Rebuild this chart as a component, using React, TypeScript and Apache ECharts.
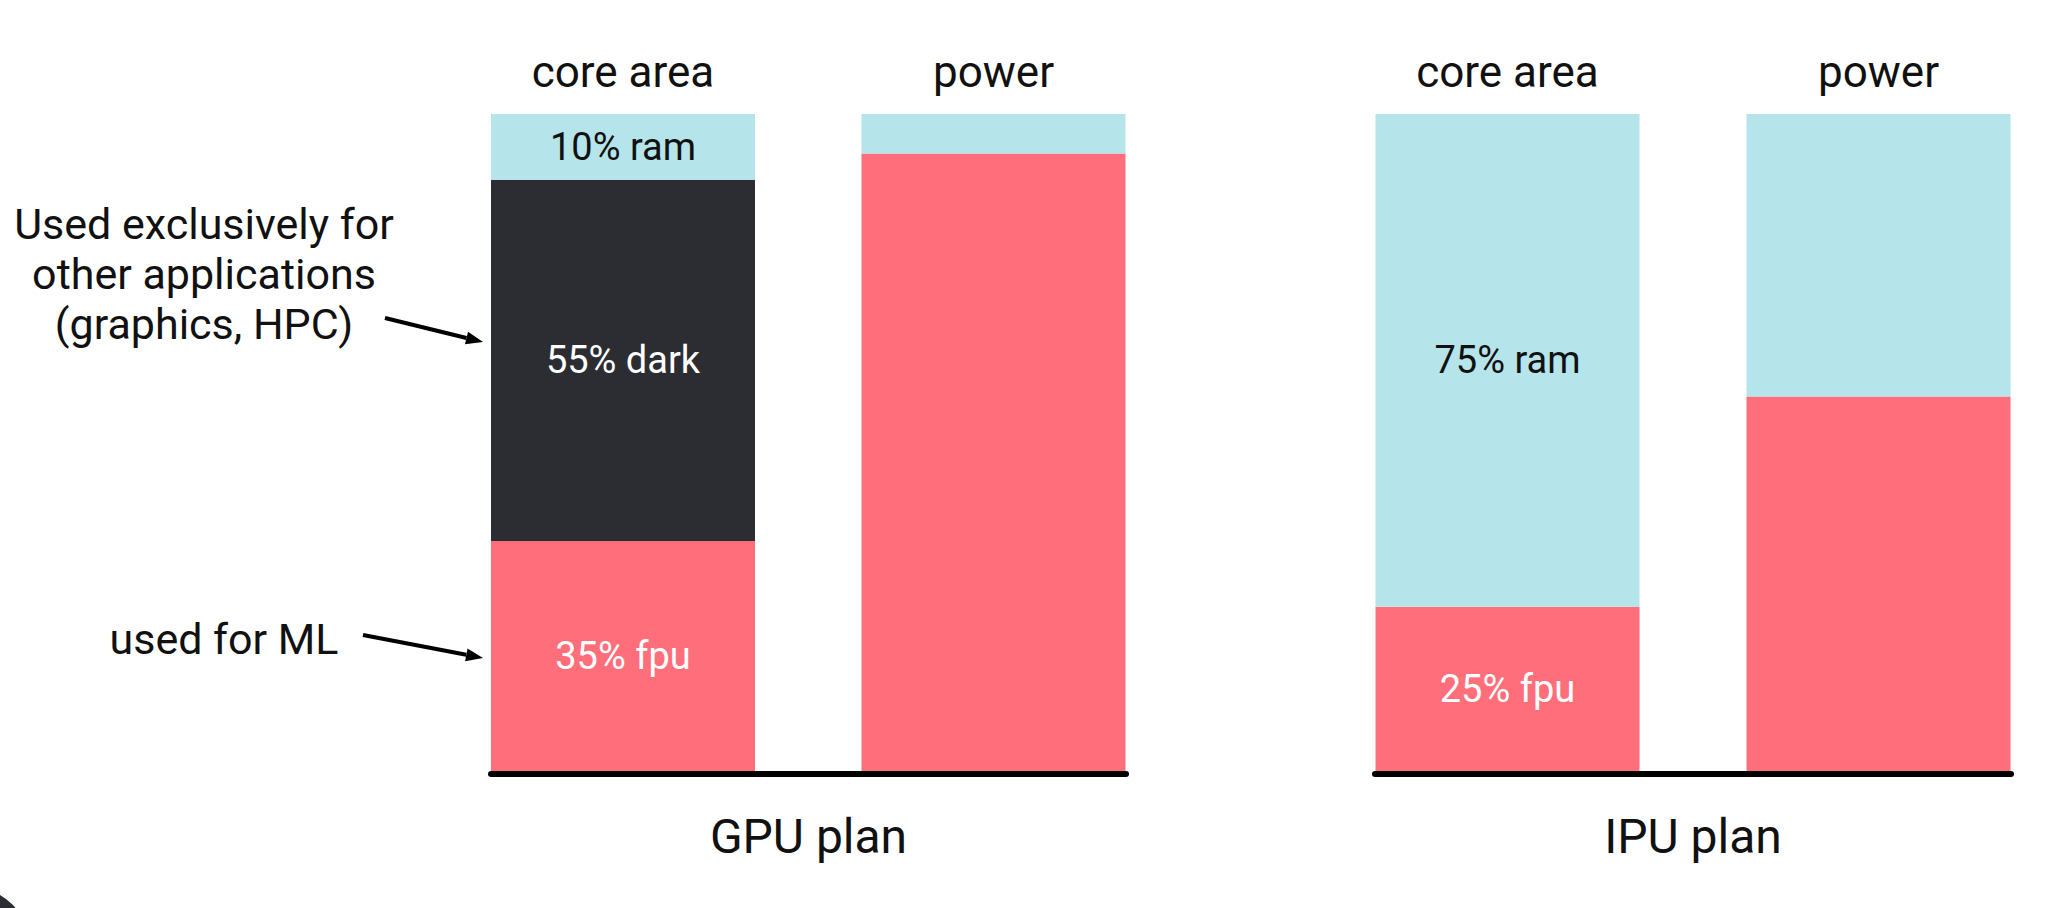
import React, { useEffect, useRef } from 'react';
import * as echarts from 'echarts';

const categories = ['core area', 'power'];
const gpuFpu = [35, 94];
const gpuDark = [55, 0];
const gpuRam = [10, 6];
const ipuFpu = [25, 57];
const ipuRam = [75, 43];
const planNames = ['GPU plan', 'IPU plan'];
const otherNote = ['Used exclusively for', 'other applications', '(graphics, HPC)'];
const mlNote = 'used for ML';

const RED = '#FF6F7B';
const BLUE = '#B5E4EA';
const DARK = '#2B2D32';
const FONT = 'Roboto, "Noto Sans", sans-serif';

export default function App() {
  const ref = useRef<HTMLDivElement>(null);

  useEffect(() => {
    if (!ref.current) return;
    const chart = echarts.init(ref.current, undefined, { renderer: 'svg' });

    const segLabel = (color: string) => ({
      show: true,
      position: 'inside',
      color,
      fontSize: 38,
      fontFamily: FONT,
      formatter: (p: any) => (p.dataIndex === 0 ? `${p.value}% ${p.seriesName}` : ''),
    });

    const bar = (name: string, data: number[], color: string, labelColor: string, gi: number, stack: string) => ({
      type: 'bar',
      name,
      data,
      stack,
      xAxisIndex: gi,
      yAxisIndex: gi,
      barWidth: 264,
      itemStyle: { color },
      label: segLabel(labelColor),
      emphasis: { disabled: true },
    });

    const topAxis = (gi: number) => ({
      gridIndex: gi,
      type: 'category',
      data: categories,
      position: 'top',
      axisLine: { show: false },
      axisTick: { show: false },
      axisLabel: { fontSize: 44, color: '#111', margin: 20, fontFamily: FONT },
    });

    const baseAxis = (gi: number, name: string) => ({
      gridIndex: gi,
      type: 'category',
      data: [''],
      position: 'bottom',
      axisLine: { show: true, lineStyle: { color: '#000', width: 6 } },
      axisTick: { show: false },
      axisLabel: { show: false },
      name,
      nameLocation: 'middle',
      nameGap: 38,
      nameTextStyle: { fontSize: 48, color: '#111', fontFamily: FONT },
    });

    const valAxis = (gi: number) => ({ gridIndex: gi, type: 'value', min: 0, max: 100, show: false });

    const arrow = (x1: number, y1: number, x2: number, y2: number) => {
      const dx = x2 - x1;
      const dy = y2 - y1;
      const len = Math.sqrt(dx * dx + dy * dy);
      const ux = dx / len;
      const uy = dy / len;
      const hl = 17;
      const hw = 6.5;
      const bx = x2 - ux * hl;
      const by = y2 - uy * hl;
      return [
        { type: 'line', shape: { x1, y1, x2: bx, y2: by }, style: { stroke: '#000', lineWidth: 4 } },
        {
          type: 'polygon',
          shape: {
            points: [
              [x2, y2],
              [bx - uy * hw, by + ux * hw],
              [bx + uy * hw, by - ux * hw],
            ],
          },
          style: { fill: '#000' },
        },
      ];
    };

    const noteText = (text: string, x: number, y: number) => ({
      type: 'text',
      x,
      y,
      style: { text, fill: '#111', fontSize: 43, fontFamily: FONT, align: 'center', verticalAlign: 'middle' },
    });

    chart.setOption({
      animation: false,
      backgroundColor: '#fff',
      grid: [
        { left: 437.75, width: 741, top: 114, height: 657 },
        { left: 1322, width: 742, top: 114, height: 657 },
        { left: 491, width: 635, top: 114, height: 660 },
        { left: 1375, width: 636, top: 114, height: 660 },
      ],
      xAxis: [topAxis(0), topAxis(1), baseAxis(2, planNames[0]), baseAxis(3, planNames[1])],
      yAxis: [valAxis(0), valAxis(1), valAxis(2), valAxis(3)],
      series: [
        bar('fpu', gpuFpu, RED, '#fff', 0, 'gpu'),
        bar('dark', gpuDark, DARK, '#fff', 0, 'gpu'),
        bar('ram', gpuRam, BLUE, '#111', 0, 'gpu'),
        bar('fpu', ipuFpu, RED, '#fff', 1, 'ipu'),
        bar('ram', ipuRam, BLUE, '#111', 1, 'ipu'),
      ],
      graphic: [
        noteText(otherNote[0], 204, 224),
        noteText(otherNote[1], 204, 274),
        noteText(otherNote[2], 204, 324),
        noteText(mlNote, 224, 639),
        ...arrow(385, 318, 483, 342),
        ...arrow(363, 635, 483, 658),
        { type: 'circle', shape: { cx: -30, cy: 947, r: 60 }, style: { fill: DARK } },
      ],
    });

    return () => chart.dispose();
  }, []);

  return (
    <div style={{ position: 'fixed', left: 0, top: 0, width: 2053, height: 908, overflow: 'hidden', background: '#fff' }}>
      <div ref={ref} style={{ position: 'absolute', left: 0, top: 0, width: 2120, height: 908 }} />
    </div>
  );
}
